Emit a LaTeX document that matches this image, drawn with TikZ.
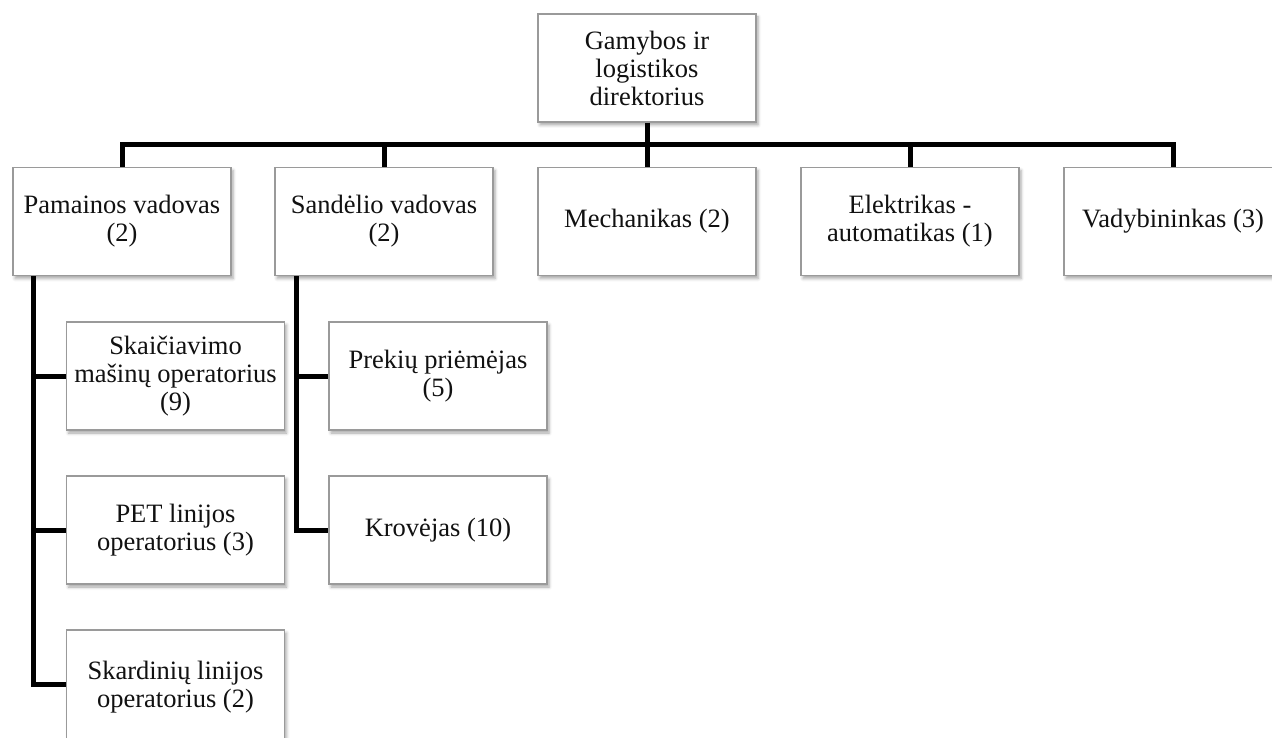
\documentclass[tikz,border=0pt]{standalone}
\usepackage{fontspec}
\setmainfont{Liberation Serif}
\usetikzlibrary{positioning,calc,shadows.blur}
\definecolor{orgGrey}{HTML}{9a9a9a}
\definecolor{orgText}{HTML}{111111}
\tikzset{
  post/.style={draw=orgGrey, line width=1.3pt, fill=white, align=center,
              minimum width=218pt, minimum height=108pt, inner sep=2pt,
              text=orgText, font=\fontsize{26.5}{28}\selectfont,
              blur shadow={shadow xshift=2pt, shadow yshift=-3pt,
                           shadow blur radius=3pt, shadow opacity=35}},
  link/.style={draw=black, line width=5pt},
}

\begin{document}
\begin{tikzpicture}[x=1pt,y=-1pt]
    \useasboundingbox (0,0) rectangle (1272,738);
    \clip (0,0) rectangle (1272,738);
    % top level
    \node[post] (dir) at (647,68) {Gamybos ir\\logistikos\\direktorius};
    % second level
    \node[post] (pam) at (122,221.5) {Pamainos vadovas\\(2)};
    \node[post] (san) at (384,221.5) {Sandėlio vadovas\\(2)};
    \node[post] (mec) at (647,221.5) {Mechanikas (2)};
    \node[post] (ele) at (910,221.5) {Elektrikas -\\automatikas (1)};
    \node[post] (vad) at (1173,221.5) {Vadybininkas (3)};
    % third level
    \node[post] (ska) at (175.5,376) {Skaičiavimo\\mašinų operatorius\\(9)};
    \node[post] (pet) at (175.5,530) {PET linijos\\operatorius (3)};
    \node[post,minimum height=114pt] (skr) at (175.5,687) {Skardinių linijos\\operatorius (2)};
    \node[post] (pre) at (438,376) {Prekių priėmėjas\\(5)};
    \node[post] (kro) at (438,530) {Krovėjas (10)};
    % connectors
    \coordinate (bus) at (647,145);
    \draw[link] (dir) -- (mec);
    \draw[link] (pam.north) |- (bus) -| (vad.north);
    \draw[link] (san.north) -- (san.north |- bus);
    \draw[link] (ele.north) -- (ele.north |- bus);
    \coordinate (pamleg) at ([xshift=21pt]pam.south west);
    \coordinate (sanleg) at ([xshift=22pt]san.south west);
    \draw[link] (pamleg) |- ([yshift=3pt]skr.west);
    \draw[link] (pamleg |- ska.west) -- (ska.west);
    \draw[link] (pamleg |- pet.west) -- (pet.west);
    \draw[link] (sanleg) |- (kro.west);
    \draw[link] (sanleg |- pre.west) -- (pre.west);
\end{tikzpicture}
\end{document}
